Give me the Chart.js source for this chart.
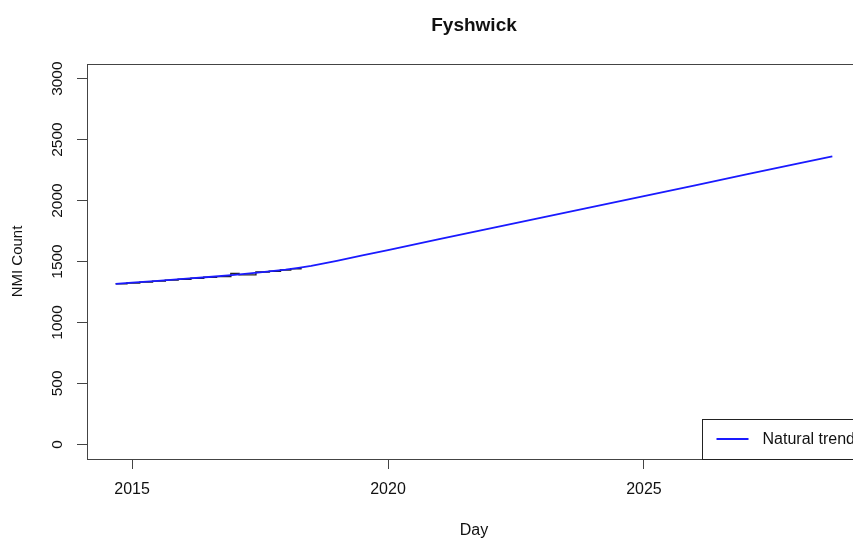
<!DOCTYPE html>
<html>
<head>
<meta charset="utf-8">
<script src="https://cdn.jsdelivr.net/npm/chart.js@4/dist/chart.umd.min.js"></script>
<style>
  html, body { margin: 0; padding: 0; background: #fff; overflow: hidden; }
  #chart { display: block; }
</style>
</head>
<body>
<canvas id="chart" width="861" height="541"></canvas>
<script>
(function() {
  const TITLE = 'Fyshwick';

  // fitted trend (decimal year, NMI count)
  const trendYears = [2014.68, 2015.0, 2015.5, 2016.0, 2016.5, 2017.0, 2017.5, 2018.0, 2018.25,
    2018.5, 2018.75, 2019.0, 2019.5, 2020.0, 2021.0, 2022.0, 2023.0, 2024.0, 2025.0,
    2026.0, 2027.0, 2028.0, 2028.68];
  const trendCounts = [1317, 1326, 1341, 1357, 1373, 1390, 1410, 1433, 1448,
    1465, 1485, 1506, 1550, 1594, 1683, 1771, 1860, 1948, 2037,
    2125, 2214, 2302, 2363];

  // recorded counts, step changes
  const countYears = [2014.68, 2014.9, 2015.15, 2015.4, 2015.65, 2015.9, 2016.15, 2016.4,
    2016.65, 2016.93, 2017.09, 2017.42, 2017.68, 2017.9, 2018.1, 2018.3];
  const counts = [1318, 1324, 1331, 1339, 1347, 1355, 1363, 1371,
    1376, 1402, 1390, 1414, 1420, 1430, 1441, 1452];

  const yearTicks = [2015, 2020, 2025];
  const countTicks = [0, 500, 1000, 1500, 2000, 2500, 3000];

  const FONT = "'Liberation Sans', Arial, Helvetica, sans-serif";
  const INK = '#111';
  const RULE = '#444';

  function pairs(xs, ys) {
    return xs.map((x, i) => ({ x: x, y: ys[i] }));
  }

  // plot frame plus the boxed key in the lower right corner
  const frameAndKey = {
    id: 'frameAndKey',
    afterDatasetsDraw(chart) {
      const ctx = chart.ctx;
      const a = chart.chartArea;
      ctx.save();
      ctx.strokeStyle = RULE;
      ctx.lineWidth = 1;
      ctx.strokeRect(Math.round(a.left) + 0.5, Math.round(a.top) + 0.5,
        Math.round(a.right - a.left), Math.round(a.bottom - a.top));

      const items = chart.data.datasets.filter(d => d.inKey);
      ctx.font = '16px ' + FONT;
      const textW = Math.max(...items.map(d => ctx.measureText(d.label).width));
      const rowH = 40;
      const right = a.right;
      const bottom = a.bottom;
      const left = right - textW - 67;
      const top = bottom - rowH * items.length;
      ctx.fillStyle = '#fff';
      ctx.fillRect(left, top, right - left, bottom - top);
      ctx.strokeStyle = '#222';
      ctx.strokeRect(Math.round(left) + 0.5, Math.round(top) + 0.5,
        Math.round(right - left), Math.round(bottom - top));
      items.forEach((d, i) => {
        const y = top + rowH * i + rowH / 2;
        ctx.strokeStyle = d.borderColor;
        ctx.lineWidth = d.borderWidth;
        ctx.beginPath();
        ctx.moveTo(left + 15, y);
        ctx.lineTo(left + 47, y);
        ctx.stroke();
        ctx.fillStyle = INK;
        ctx.textBaseline = 'middle';
        ctx.textAlign = 'left';
        ctx.fillText(d.label, left + 61, y + 1);
      });
      ctx.restore();
    }
  };

  const ctx = document.getElementById('chart').getContext('2d');
  new Chart(ctx, {
    type: 'line',
    data: {
      datasets: [{
        label: 'Natural trend',
        inKey: true,
        order: 0,
        data: pairs(trendYears, trendCounts),
        borderColor: '#1a1aff',
        borderWidth: 1.8,
        pointRadius: 0,
        fill: false,
        tension: 0
      }, {
        label: 'NMI Count',
        inKey: false,
        order: 1,
        data: pairs(countYears, counts),
        borderColor: '#222',
        borderWidth: 1.4,
        pointRadius: 0,
        fill: false,
        stepped: 'before'
      }]
    },
    options: {
      responsive: false,
      animation: false,
      events: [],
      layout: { padding: 0 },
      plugins: {
        legend: { display: false },
        tooltip: { enabled: false },
        title: {
          display: true,
          text: TITLE,
          fullSize: false,
          color: INK,
          font: { family: FONT, size: 19, weight: 'bold' },
          padding: { top: 14, bottom: 27.2 }
        }
      },
      scales: {
        x: {
          type: 'linear',
          min: 2014.12,
          max: 2029.24,
          afterFit: s => { s.height = 82; },
          afterBuildTicks: s => { s.ticks = yearTicks.map(v => ({ value: v })); },
          border: { display: true, color: RULE, width: 1 },
          grid: { drawOnChartArea: false, drawTicks: true, tickLength: 10, color: RULE },
          ticks: {
            color: INK,
            padding: 11,
            maxRotation: 0,
            font: { family: FONT, size: 16 },
            callback: v => String(v)
          },
          title: {
            display: true,
            text: 'Day',
            color: INK,
            font: { family: FONT, size: 16 },
            padding: { top: 0, bottom: 1 }
          }
        },
        y: {
          type: 'linear',
          min: -120,
          max: 3120,
          afterFit: s => { s.width = 87; },
          afterBuildTicks: s => { s.ticks = countTicks.map(v => ({ value: v })); },
          border: { display: true, color: RULE, width: 1 },
          grid: { drawOnChartArea: false, drawTicks: true, tickLength: 10, color: RULE },
          ticks: {
            color: INK,
            padding: 2,
            minRotation: 90,
            maxRotation: 90,
            crossAlign: 'center',
            font: { family: FONT, size: 15.5 },
            callback: v => String(v)
          },
          title: {
            display: true,
            text: 'NMI Count',
            color: INK,
            font: { family: FONT, size: 15 },
            padding: { top: 9, bottom: 0 }
          }
        }
      }
    },
    plugins: [frameAndKey]
  });
})();
</script>
</body>
</html>
